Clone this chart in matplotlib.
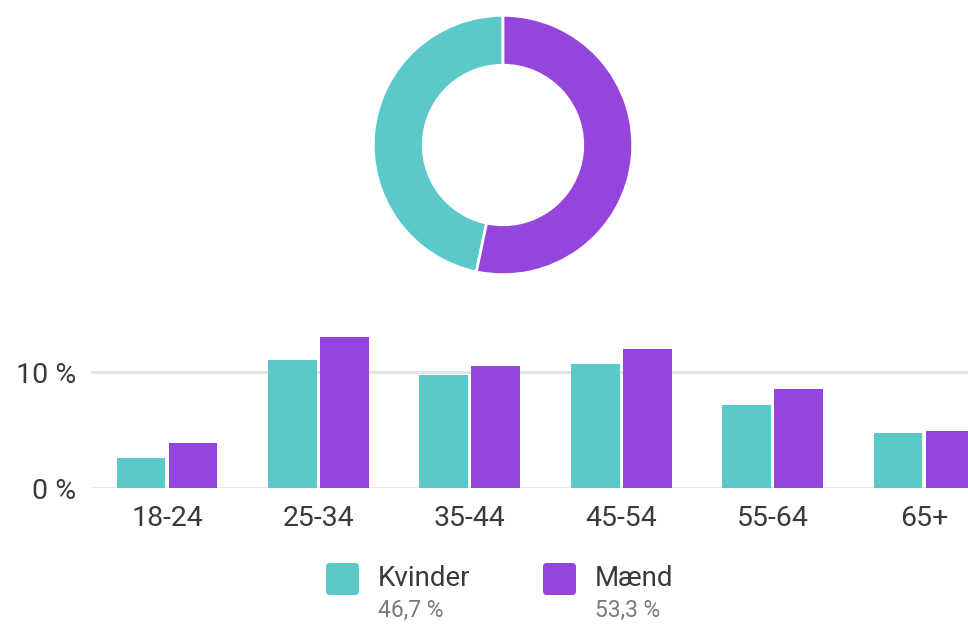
import matplotlib.pyplot as plt
import numpy as np
from matplotlib.patches import FancyBboxPatch

plt.rcParams['font.family'] = ['Roboto', 'DejaVu Sans']

# Data
gender_labels = ['Kvinder', 'Mænd']
gender_share = [46.7, 53.3]
gender_share_text = ['46,7 %', '53,3 %']

age_groups = ['18-24', '25-34', '35-44', '45-54', '55-64', '65+']
women = [2.6, 11.1, 9.8, 10.7, 7.2, 4.8]
men = [3.9, 13.0, 10.5, 12.0, 8.6, 4.9]

y_ticks = [0, 10]
y_tick_labels = ['0 %', '10 %']

teal = '#5bc9c9'
purple = '#9545db'
colors = [teal, purple]

W, H = 968, 628
fig = plt.figure(figsize=(W / 100, H / 100), dpi=100)

def px_axes(x0, y0, w, h):
    # pixel box (top-left origin) -> figure axes
    return fig.add_axes([x0 / W, 1 - (y0 + h) / H, w / W, h / H])

# Donut
r = 131
ax_pie = px_axes(503 - r, 145 - r, 2 * r, 2 * r)
ax_pie.pie(gender_share, colors=colors, startangle=90, counterclock=True,
           radius=1, wedgeprops=dict(width=0.385, edgecolor='white', linewidth=2))
ax_pie.set_xlim(-1.01, 1.01)
ax_pie.set_ylim(-1.01, 1.01)
ax_pie.set_aspect('equal')
ax_pie.axis('off')

# Bars
top_val = 14
px_per_unit = 11.6
ax = px_axes(91.3, 488.3 - top_val * px_per_unit, 6 * 151.4, top_val * px_per_unit)
x = np.arange(len(age_groups))
bw = 0.323
off = 0.172
ax.bar(x - off, women, bw, color=teal, zorder=3)
ax.bar(x + off, men, bw, color=purple, zorder=3)
ax.set_xlim(-0.5, len(age_groups) - 0.5)
ax.set_ylim(0, top_val)
ax.set_yticks(y_ticks)
ax.set_yticklabels(y_tick_labels)
ax.set_xticks(x)
ax.set_xticklabels(age_groups)
ax.tick_params(length=0, labelsize=20.5, colors='#3a3a3a', pad=12)
ax.tick_params(axis='y', pad=11)
ax.grid(axis='y', color='#e3e3e3', linewidth=2, zorder=0)
for s in ax.spines.values():
    s.set_visible(False)

# Legend
legend_x = [326, 543]
for i, lab in enumerate(gender_labels):
    lx = legend_x[i]
    box = FancyBboxPatch((lx / W, 1 - 595 / H), 33 / W, 32 / H,
                         boxstyle='round,pad=0,rounding_size=0.004',
                         transform=fig.transFigure, facecolor=colors[i],
                         edgecolor='none', mutation_aspect=W / H)
    fig.patches.append(box)
    fig.text((lx + 52) / W, 1 - 579 / H, lab, fontsize=20, color='#3a3a3a',
             va='center', ha='left')
    fig.text((lx + 52) / W, 1 - 610 / H, gender_share_text[i], fontsize=16.5,
             color='#7a7a7a', va='center', ha='left')

fig.savefig('out.png', dpi=100)
